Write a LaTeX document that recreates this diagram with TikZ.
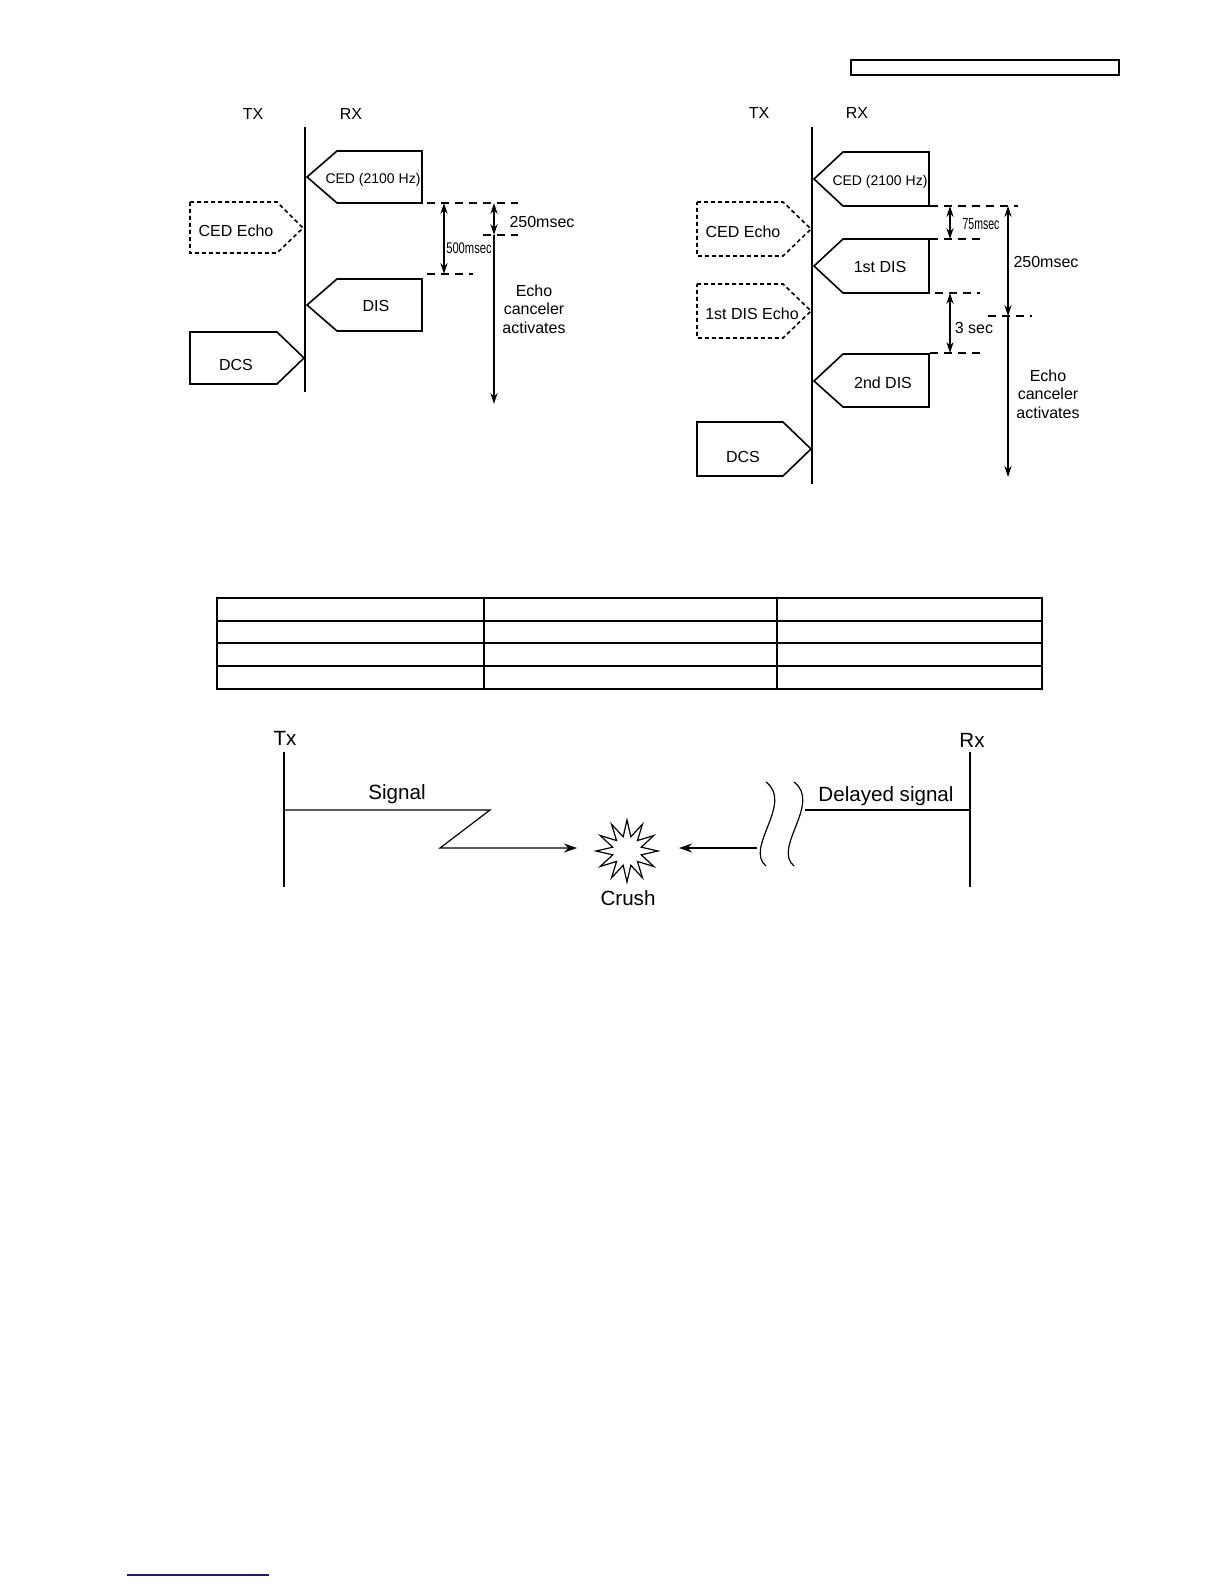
\documentclass[tikz,border=0pt]{standalone}
\usepackage{fontspec}
\setmainfont{Liberation Sans}
\usetikzlibrary{arrows.meta,shapes.geometric}
\begin{document}
\begin{tikzpicture}[x=0.5pt,y=-0.5pt,
  >={Stealth[length=5.5pt,width=3.6pt]},
  lbl/.style={font=\fontsize{8}{9.3}\selectfont, inner sep=0pt, align=center},
  sm/.style={font=\fontsize{7}{8}\selectfont, inner sep=0pt},
  big/.style={font=\fontsize{10.3}{12}\selectfont, inner sep=0pt},
  frame/.style={line width=0.8pt, line join=miter},
  echobox/.style={line width=0.8pt, dash pattern=on 2pt off 1.5pt},
  guide/.style={line width=0.7pt, dash pattern=on 4pt off 3pt},
  dim/.style={line width=0.8pt},
  thin/.style={line width=0.6pt},
  bigtip/.style={>={Stealth[length=6.5pt,width=4.5pt]}},
]
\useasboundingbox (0,0) rectangle (1224,1584);

% ---------- top right box ----------
\draw[thin] (851,60) rectangle (1119,75);

% ================= LEFT DIAGRAM =================
\node[lbl] (lTX) at (253,114) {TX};
\node[lbl] (lRX) at (351,114) {RX};
\coordinate (lTop) at (305,127);
\coordinate (lBot) at (305,392);
\draw[frame] (lTop) -- (lBot);

\draw[frame] (307,177) -- (337,151) -- (422,151) -- (422,203) -- (337,203) -- cycle;
\node[sm] (lCED) at (373,180) {CED (2100 Hz)};
\draw[echobox] (190,202) -- (277,202) -- (303,228) -- (277,253) -- (190,253) -- cycle;
\node[lbl] (lCEDe) at (236,231) {CED Echo};
\draw[frame] (307,305) -- (337,279) -- (422,279) -- (422,331) -- (337,331) -- cycle;
\node[lbl] (lDIS) at (376,306) {DIS};
\draw[frame] (190,332) -- (277,332) -- (304,358) -- (277,384) -- (190,384) -- cycle;
\node[lbl] (lDCS) at (236,365) {DCS};

\coordinate (lg1a) at (427,203); \coordinate (lg1b) at (518,203);
\coordinate (lg2a) at (483,235); \coordinate (lg2b) at (518,235);
\coordinate (lg3a) at (427,274); \coordinate (lg3b) at (473,274);
\draw[guide] (lg1a) -- (lg1b);
\draw[guide] (lg2a) -- (lg2b);
\draw[guide] (lg3a) -- (lg3b);

\coordinate (l500a) at (444,203); \coordinate (l500b) at (444,274);
\draw[dim,<->] (l500a) -- (l500b);
\node[sm] (l500) at (469,248) {\scalebox{0.8}[1.1]{500msec}};
\coordinate (l250a) at (494,203); \coordinate (l250b) at (494,235);
\draw[dim,<->] (l250a) -- (l250b);
\node[lbl] (l250) at (542,222) {250msec};
\coordinate (lEnd) at (494,404);
\draw[dim,->] (l250b) -- (lEnd);
\node[lbl] (lEcho) at (534,309) {Echo\\canceler\\activates};

% ================= RIGHT DIAGRAM =================
\node[lbl] (rTX) at (759,113) {TX};
\node[lbl] (rRX) at (857,113) {RX};
\coordinate (rTop) at (812,127);
\coordinate (rBot) at (812,484);
\draw[frame] (rTop) -- (rBot);

\draw[frame] (814,179) -- (843,152) -- (929,152) -- (929,206) -- (843,206) -- cycle;
\node[sm] (rCED) at (880,182) {CED (2100 Hz)};
\draw[echobox] (697,202) -- (783,202) -- (811,229) -- (783,256) -- (697,256) -- cycle;
\node[lbl] (rCEDe) at (743,232) {CED Echo};
\draw[frame] (814,266) -- (843,239) -- (929,239) -- (929,293) -- (843,293) -- cycle;
\node[lbl] (rDIS1) at (880,267) {1st DIS};
\draw[echobox] (697,284) -- (783,284) -- (811,311) -- (783,338) -- (697,338) -- cycle;
\node[lbl] (rDISe) at (752,314) {1st DIS Echo};
\draw[frame] (814,381) -- (843,354) -- (929,354) -- (929,407) -- (843,407) -- cycle;
\node[lbl] (rDIS2) at (883,383) {2nd DIS};
\draw[frame] (697,422) -- (783,422) -- (811,449) -- (783,476) -- (697,476) -- cycle;
\node[lbl] (rDCS) at (743,457) {DCS};

\coordinate (rg1a) at (930,206); \coordinate (rg1b) at (1018,206);
\coordinate (rg2a) at (930,239); \coordinate (rg2b) at (980,239);
\coordinate (rg3a) at (935,293); \coordinate (rg3b) at (980,293);
\coordinate (rg4a) at (988,316); \coordinate (rg4b) at (1032,316);
\coordinate (rg5a) at (930,353); \coordinate (rg5b) at (980,353);
\foreach \p in {1,...,5} \draw[guide] (rg\p a) -- (rg\p b);

\coordinate (r75a) at (950,206); \coordinate (r75b) at (950,239);
\draw[dim,<->] (r75a) -- (r75b);
\node[sm] (r75) at (981,224) {\scalebox{0.75}[1.15]{75msec}};
\coordinate (r3a) at (950,293); \coordinate (r3b) at (950,353);
\draw[dim,<->] (r3a) -- (r3b);
\node[lbl] (r3) at (974,328) {3 sec};
\coordinate (r250a) at (1008,206); \coordinate (r250b) at (1008,316);
\draw[dim,<->] (r250a) -- (r250b);
\node[lbl] (r250) at (1046,262) {250msec};
\coordinate (rEnd) at (1008,477);
\draw[dim,->] (r250b) -- (rEnd);
\node[lbl] (rEcho) at (1048,394) {Echo\\canceler\\activates};

% ================= TABLE =================
\draw[thin] (217,598) rectangle (1042,689);
\draw[thin] (484,598) -- (484,689);
\draw[thin] (777,598) -- (777,689);
\draw[thin] (217,621) -- (1042,621);
\draw[thin] (217,643) -- (1042,643);
\draw[thin] (217,666) -- (1042,666);

% ================= BOTTOM DIAGRAM =================
\node[big] (bTx) at (285,738) {Tx};
\node[big] (bRx) at (972,740) {Rx};
\coordinate (txTop) at (284,752); \coordinate (txBot) at (284,887);
\coordinate (rxTop) at (970,752); \coordinate (rxBot) at (970,887);
\draw[thin] (txTop) -- (txBot);
\draw[thin] (rxTop) -- (rxBot);

\node[star, star points=12, star point ratio=2.1, minimum size=31pt, draw, thin, inner sep=0pt] (crash) at (627,851) {};
\node[big] (crushlbl) at (628,898) {Crush};

\coordinate (s1) at (284,810);
\coordinate (s2) at (490,810);
\coordinate (s3) at (440,848);
\coordinate (s4) at (577,848);
\draw[thin,bigtip,->] (s1) -- (s2) -- (s3) -- (s4);
\node[big] (sig) at (397,794) {Signal};

\draw[thin] (766,782) .. controls (794,803) and (744,848) .. (766,866);
\draw[thin] (794,782) .. controls (822,803) and (772,848) .. (794,866);
\coordinate (d1) at (970,810);
\coordinate (d2) at (805,810);
\draw[thin] (d1) -- (d2);
\coordinate (a1) at (757,848);
\coordinate (a2) at (679,848);
\draw[thin,bigtip,->] (a1) -- (a2);
\node[big] (dsig) at (886,796) {Delayed signal};

% ---------- footer line ----------
\draw[line width=0.9pt, color={rgb,255:red,25;green,25;blue,130}] (127,1575) -- (269,1575);
\end{tikzpicture}
\end{document}
